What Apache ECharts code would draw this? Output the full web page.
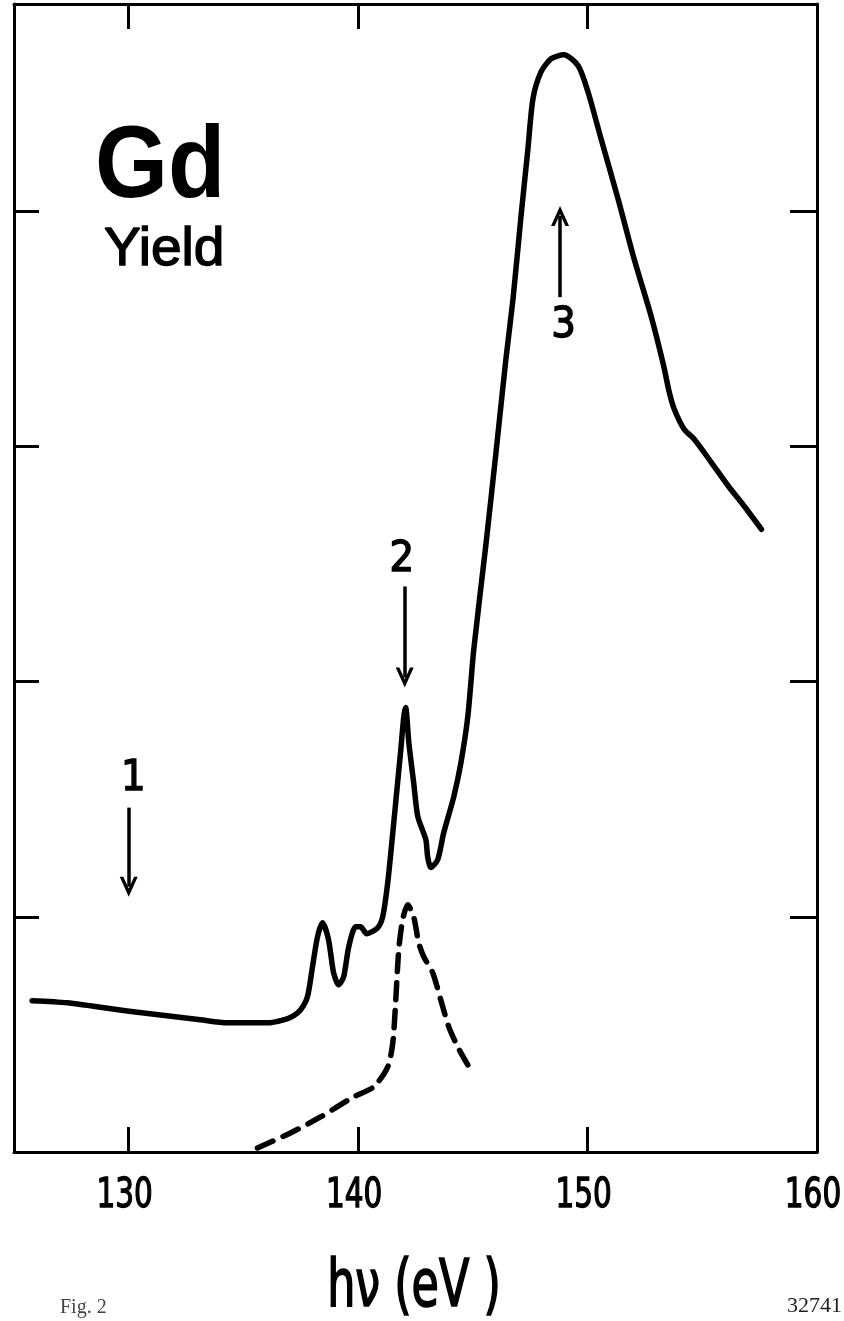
<!DOCTYPE html>
<html>
<head>
<meta charset="utf-8">
<script src="https://cdn.jsdelivr.net/npm/echarts@6/dist/echarts.min.js"></script>
<style>
html,body{margin:0;padding:0;background:#fff;overflow:hidden;}
#chart{width:844px;height:1321px;}
</style>
</head>
<body>
<div id="chart"></div>
<script>
// ---- data (hν in eV, yield in arbitrary units) ----
const xRange = [125, 160];
const yRange = [0, 4.88];
const xLabelValues = [130, 140, 150, 160];
const xTickValues = [130, 140, 150];
const yTickValues = [1, 2, 3, 4];

const solidX = [125.79,127.31,130.20,133.12,134.30,136.05,136.75,137.18,137.49,137.79,138.01,138.23,138.45,138.71,138.93,139.15,139.37,139.59,139.89,140.11,140.37,140.85,141.07,141.29,141.51,141.72,141.86,141.99,142.07,142.21,142.42,142.60,142.95,143.03,143.17,143.47,143.73,144.17,144.48,144.78,145.04,145.57,146.00,146.44,146.75,147.10,147.40,147.62,147.97,148.41,148.97,149.59,150.02,150.59,151.33,152.03,152.77,153.30,153.56,153.78,154.21,154.65,155.39,156.14,156.83,157.58];
const solidY = [0.643,0.634,0.596,0.562,0.549,0.549,0.562,0.579,0.604,0.660,0.787,0.915,0.974,0.902,0.762,0.711,0.745,0.872,0.957,0.957,0.928,0.953,1.000,1.145,1.357,1.570,1.711,1.851,1.889,1.740,1.570,1.426,1.328,1.255,1.209,1.243,1.357,1.511,1.655,1.851,2.136,2.583,2.966,3.370,3.626,3.979,4.264,4.477,4.591,4.647,4.664,4.617,4.506,4.306,4.051,3.796,3.553,3.349,3.230,3.157,3.072,3.030,2.932,2.830,2.745,2.647];

const dashedX = [135.61,137.05,138.36,139.80,140.68,141.29,141.51,141.64,141.77,141.94,142.16,142.42,142.64,142.86,143.25,143.60,143.95,144.34,144.78];
const dashedY = [0.017,0.081,0.149,0.234,0.277,0.362,0.464,0.647,0.860,0.987,1.051,1.000,0.889,0.830,0.762,0.647,0.532,0.447,0.370];

// annotation arrows: [x, yStart, yEnd] and their numbers
const arrowX = [130.0, 142.03, 148.80];
const arrowYStart = [1.464, 2.404, 3.634];
const arrowYEnd = [1.128, 2.017, 3.979];
const arrowNames = ['1', '2', '3'];
const arrowLabelX = [130.2, 141.9, 148.95];
const arrowLabelY = [1.587, 2.519, 3.514];

const zip = (a, b) => a.map((v, i) => [v, b[i]]);

const chart = echarts.init(document.getElementById('chart'), null, {renderer: 'canvas'});
const axisLine = {show: true, onZero: false, lineStyle: {color: '#000', width: 3}};
const tickStyle = {color: '#000', width: 3};
const chevron = 'path://M0,22 L10,0 L20,22 L16,22 L10,9 L4,22 Z';
const narrowFont = '"DejaVu Sans Condensed","DejaVu Sans","Liberation Sans",sans-serif';

const option = {
  backgroundColor: '#fff',
  animation: false,
  grid: {left: 14, right: 27, top: 4, bottom: 169, containLabel: false, outerBoundsMode: 'none'},
  xAxis: [
    {
      type: 'value', position: 'bottom', min: xRange[0], max: xRange[1],
      axisLine: axisLine,
      axisTick: {show: true, inside: true, length: 25, lineStyle: tickStyle, customValues: xTickValues},
      axisLabel: {show: false},
      splitLine: {show: false}
    },
    {
      type: 'value', position: 'top', min: xRange[0], max: xRange[1],
      axisLine: axisLine,
      axisTick: {show: true, inside: true, length: 25, lineStyle: tickStyle, customValues: xTickValues},
      axisLabel: {show: false},
      splitLine: {show: false}
    }
  ],
  yAxis: [
    {
      type: 'value', position: 'left', min: yRange[0], max: yRange[1],
      axisLine: axisLine,
      axisTick: {show: true, inside: true, length: 25, lineStyle: tickStyle, customValues: yTickValues},
      axisLabel: {show: false}, splitLine: {show: false}
    },
    {
      type: 'value', position: 'right', min: yRange[0], max: yRange[1],
      axisLine: axisLine,
      axisTick: {show: true, inside: true, length: 27, lineStyle: tickStyle, customValues: yTickValues},
      axisLabel: {show: false}, splitLine: {show: false}
    }
  ],
  series: [
    {
      type: 'line', xAxisIndex: 0, yAxisIndex: 0,
      data: zip(solidX, solidY), showSymbol: false, smooth: 0.25,
      lineStyle: {color: '#000', width: 5.5, cap: 'round', join: 'round'},
      markLine: {
        silent: true, animation: false,
        symbol: ['none', chevron], symbolSize: [18, 20],
        lineStyle: {color: '#000', width: 3.5, type: 'solid'},
        label: {show: false},
        data: arrowX.map((x, i) => [{coord: [x, arrowYStart[i]]}, {coord: [x, arrowYEnd[i]]}])
      },
      markPoint: {
        silent: true, animation: false, symbol: 'circle', symbolSize: 1,
        itemStyle: {color: 'rgba(0,0,0,0)'},
        label: {show: true, position: 'inside', formatter: '{b}', color: '#000',
          textBorderColor: '#000', textBorderWidth: 1.4,
          fontFamily: narrowFont, fontSize: 43},
        data: arrowNames.map((n, i) => ({name: n, coord: [arrowLabelX[i], arrowLabelY[i]]}))
      }
    },
    {
      type: 'line', xAxisIndex: 0, yAxisIndex: 0,
      data: zip(dashedX, dashedY), showSymbol: false, smooth: 0.25,
      lineStyle: {color: '#000', width: 5.5, type: [17, 11], cap: 'round'}
    }
  ]
};
chart.setOption(option);

// tick labels placed through the axis scale (narrow, as in the original lettering)
const axisY = chart.convertToPixel({yAxisIndex: 0}, yRange[0]);
const labelGraphics = xLabelValues.map(v => ({
  type: 'text',
  x: chart.convertToPixel({xAxisIndex: 0}, v) - 4,
  y: axisY + 24,
  scaleX: 0.8,
  style: {text: String(v), fill: '#000', stroke: '#000', lineWidth: 1.3,
    font: '41px ' + narrowFont, textAlign: 'center', textVerticalAlign: 'top'}
}));

chart.setOption({
  graphic: labelGraphics.concat([
    {type: 'text', x: 95, y: 118, scaleX: 0.92, style: {text: 'Gd', fill: '#000',
      font: 'bold 102px "Liberation Sans", Arial, sans-serif'}},
    {type: 'text', x: 104, y: 224, scaleX: 1.04, style: {text: 'Yield', fill: '#000',
      stroke: '#000', lineWidth: 1.4,
      font: '53px "Liberation Sans", Arial, sans-serif'}},
    {type: 'text', x: 414, y: 1257, scaleX: 0.76, style: {text: 'hν (eV )', fill: '#000',
      stroke: '#000', lineWidth: 1.7,
      textAlign: 'center', font: '65px ' + narrowFont}},
    {type: 'text', x: 60, y: 1298, style: {text: 'Fig. 2', fill: '#444',
      font: '20px "Liberation Serif", "DejaVu Serif", serif'}},
    {type: 'text', x: 787, y: 1295, style: {text: '32741', fill: '#222',
      font: '22px "Liberation Serif", "DejaVu Serif", serif'}}
  ])
});
</script>
</body>
</html>
